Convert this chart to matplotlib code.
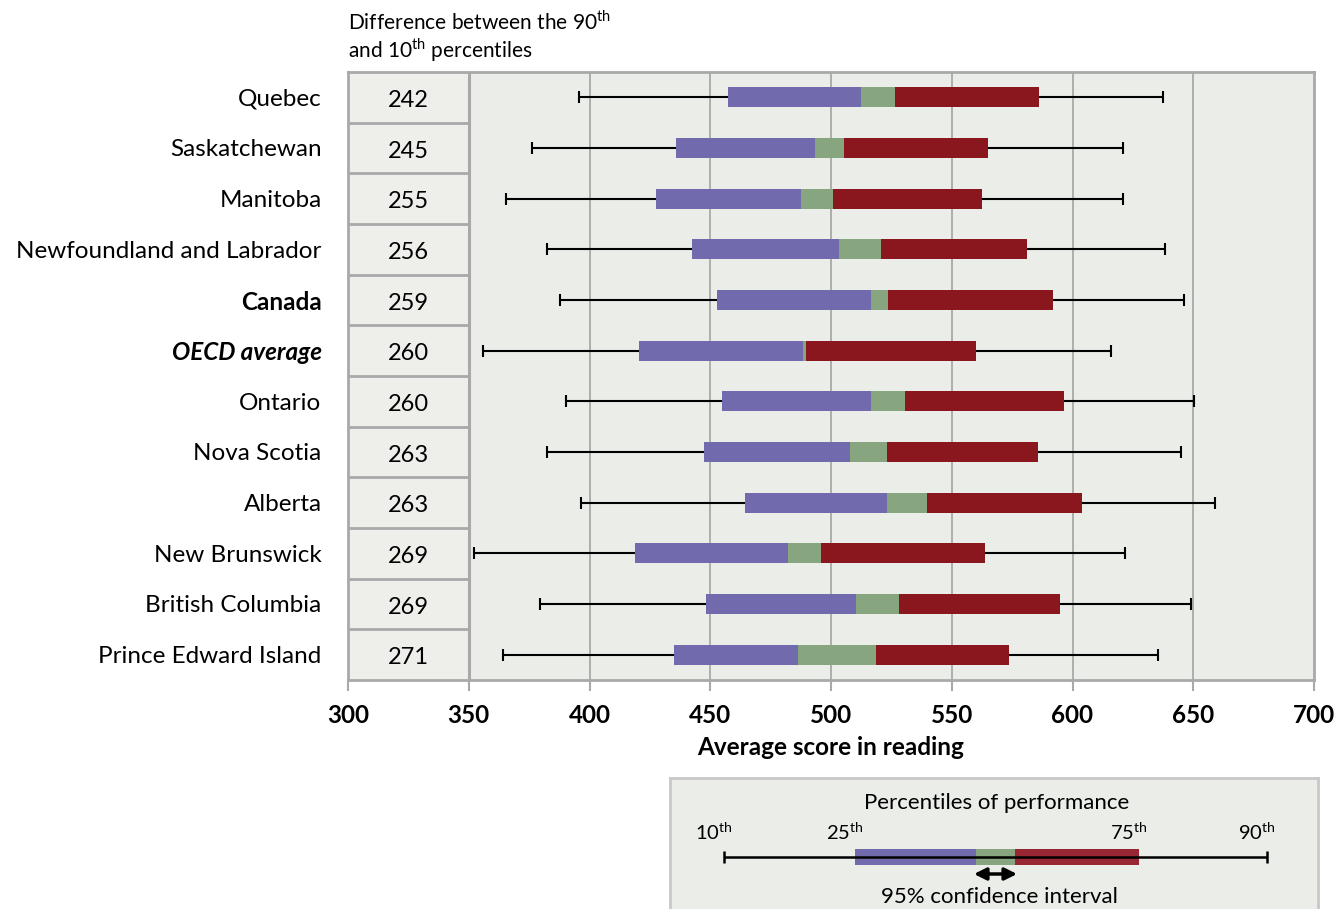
import matplotlib
matplotlib.use("Agg")
import matplotlib.pyplot as plt
from matplotlib.patches import FancyArrowPatch

plt.rcParams["font.family"] = ["Lato", "DejaVu Sans"]
plt.rcParams["mathtext.fontset"] = "custom"
plt.rcParams["mathtext.rm"] = "Lato"

provinces = ["Quebec", "Saskatchewan", "Manitoba", "Newfoundland and Labrador",
             "Canada", "OECD average", "Ontario", "Nova Scotia", "Alberta",
             "New Brunswick", "British Columbia", "Prince Edward Island"]
gap_90_10 = [242, 245, 255, 256, 259, 260, 260, 263, 263, 269, 269, 271]
p10 = [395.5, 376.1, 365.5, 382.6, 387.7, 355.9, 390.1, 382.6, 396.3, 352.3, 379.7, 364.2]
p25 = [457.2, 436.0, 427.5, 442.5, 452.6, 420.5, 454.9, 447.4, 464.5, 418.7, 448.4, 435.0]
ci_low = [512.5, 493.4, 487.7, 503.5, 516.7, 488.2, 516.7, 507.9, 523.1, 482.3, 510.5, 486.4]
ci_high = [526.5, 505.3, 500.9, 520.5, 523.6, 489.8, 530.6, 523.1, 539.9, 496.0, 528.0, 518.7]
p75 = [586.2, 565.0, 562.4, 581.3, 591.9, 560.1, 596.3, 585.7, 604.0, 563.7, 595.0, 573.5]
p90 = [637.3, 620.8, 621.1, 638.4, 646.1, 616.1, 650.5, 645.1, 658.8, 621.6, 649.2, 635.3]

# legend example bar (positions inside the legend box)
legend_pcts = [54, 185, 306, 345, 469, 597]  # p10, p25, ci_low, ci_high, p75, p90

PURPLE = "#716bad"
GREEN = "#87a67f"
RED = "#8b171e"
BG = "#ebede8"
GRID = "#a9a9a9"

fig = plt.figure(figsize=(13.4, 9.09), dpi=100)
ax = fig.add_axes([348 / 1340, 1 - 680 / 909, 966 / 1340, 608 / 909])
ax.set_facecolor(BG)

n = len(provinces)
ys = list(range(n))
ax.set_xlim(300, 700)
ax.set_ylim(n - 0.5, -0.5)

# table column
ax.axvspan(300, 350, color="#eeefeb", zorder=0)
for i in range(1, n):
    ax.plot([300, 350], [i - 0.5, i - 0.5], color=GRID, lw=2, zorder=1)
for y, g in zip(ys, gap_90_10):
    ax.text(325, y + 0.02, str(g), ha="center", va="center_baseline", fontsize=17)

for gx in range(400, 700, 50):
    ax.axvline(gx, color=GRID, lw=1.3, zorder=1)
ax.axvline(350, color=GRID, lw=2.2, zorder=1)

h = 0.4
ax.hlines(ys, p10, p90, color="black", lw=1.5, zorder=2)
ax.vlines(p10, [y - 0.12 for y in ys], [y + 0.12 for y in ys], color="black", lw=1.5, zorder=2)
ax.vlines(p90, [y - 0.12 for y in ys], [y + 0.12 for y in ys], color="black", lw=1.5, zorder=2)
ax.barh(ys, [b - a for a, b in zip(p25, ci_low)], left=p25, height=h, color=PURPLE, zorder=3)
ax.barh(ys, [b - a for a, b in zip(ci_low, ci_high)], left=ci_low, height=h, color=GREEN, zorder=3)
ax.barh(ys, [b - a for a, b in zip(ci_high, p75)], left=ci_high, height=h, color=RED, zorder=3)

ax.set_xticks(range(300, 701, 50))
for lbl in ax.get_xticklabels():
    lbl.set_fontweight("bold")
ax.tick_params(axis="x", direction="out", length=8, width=1.5, color=GRID,
               labelsize=17.5, pad=9)
ax.set_xlabel("Average score in reading", fontsize=17.5, fontweight="bold", labelpad=7)

ax.set_yticks(ys)
ax.set_yticklabels(provinces, fontsize=17.5)
ax.tick_params(axis="y", length=0, pad=19)
for lbl in ax.get_yticklabels():
    if lbl.get_text() == "Canada":
        lbl.set_fontweight("bold")
    elif lbl.get_text() == "OECD average":
        lbl.set_fontweight("bold")
        lbl.set_fontstyle("italic")

for s in ax.spines.values():
    s.set_color(GRID)
    s.set_linewidth(2)

fig.text(348 / 1340, 1 - 22 / 909, r"Difference between the 90$^{\mathrm{th}}$",
         fontsize=15, va="center", ha="left")
fig.text(348 / 1340, 1 - 50 / 909, r"and 10$^{\mathrm{th}}$ percentiles",
         fontsize=15, va="center", ha="left")

# legend box
lax = fig.add_axes([670 / 1340, 1 - 925 / 909, 648 / 1340, 147 / 909])
lax.set_facecolor(BG)
lax.set_xlim(0, 648)
lax.set_ylim(147, 0)
lax.set_xticks([])
lax.set_yticks([])
for s in lax.spines.values():
    s.set_color("#c8c8c8")
    s.set_linewidth(2)

a10, a25, alo, ahi, a75, a90 = legend_pcts
by = 79
lax.hlines(by, a10, a90, color="black", lw=1.8)
lax.vlines([a10, a90], by - 6, by + 6, color="black", lw=1.8)
lax.barh(by, alo - a25, left=a25, height=16, color=PURPLE)
lax.barh(by, ahi - alo, left=alo, height=16, color=GREEN)
lax.barh(by, a75 - ahi, left=ahi, height=16, color="#982633")
lax.add_patch(FancyArrowPatch((alo - 2, 96), (ahi + 2, 96), arrowstyle="<|-|>",
                              mutation_scale=18, color="black", lw=2.5,
                              shrinkA=0, shrinkB=0))
lax.text((a10 + a90) / 2 + 1, 25, "Percentiles of performance", ha="center",
         va="center", fontsize=16)
lax.text((alo + ahi) / 2 + 4, 119, "95% confidence interval", ha="center",
         va="center", fontsize=16)
for xp, t in zip([a10, a25, a75, a90], ["10", "25", "75", "90"]):
    lax.text(xp - 10, 54, t + r"$^{\mathrm{th}}$", ha="center", va="center", fontsize=14.5)

fig.savefig("out.png", dpi=100, facecolor="white")
